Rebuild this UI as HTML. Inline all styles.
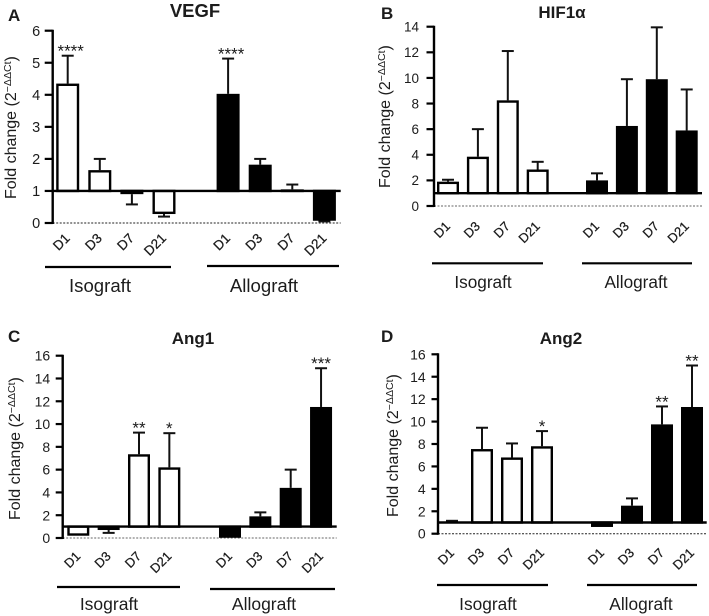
<!DOCTYPE html>
<html>
<head>
<meta charset="utf-8">
<style>
html,body{margin:0;padding:0;background:#fff;}
svg{display:block;font-family:"Liberation Sans",Arial,sans-serif;}
text{fill:#1c1c1c;}
</style>
</head>
<body>
<svg id="figure" width="709" height="616" viewBox="0 0 709 616" xmlns="http://www.w3.org/2000/svg"></svg>
<script>
const categories = ['D1', 'D3', 'D7', 'D21', 'D1', 'D3', 'D7', 'D21'];
const groups = ['Isograft', 'Allograft'];

const vegfValues = [4.35, 1.65, 0.9, 0.28, 4.03, 1.82, 1.05, 0.07];
const vegfErrors = [0.87, 0.35, 0.32, 0.08, 1.1, 0.18, 0.15, 0.02];
const vegfStars = ['****', '', '', '', '****', '', '', ''];
const vegfTicks = [0, 1, 2, 3, 4, 5, 6];

const hifValues = [1.9, 3.85, 8.25, 2.85, 2.0, 6.25, 9.9, 5.9];
const hifErrors = [0.15, 2.15, 3.85, 0.6, 0.55, 3.65, 4.05, 3.2];
const hifStars = ['', '', '', '', '', '', '', ''];
const hifTicks = [0, 2, 4, 6, 8, 10, 12, 14];

const ang1Values = [0.2, 0.7, 7.35, 6.2, 0.02, 1.9, 4.4, 11.5];
const ang1Errors = [0, 0.25, 1.9, 3.0, 0, 0.35, 1.6, 3.4];
const ang1Stars = ['', '', '**', '*', '', '', '', '***'];
const ang1Ticks = [0, 2, 4, 6, 8, 10, 12, 14, 16];

const ang2Values = [1.1, 7.55, 6.8, 7.8, 0.6, 2.5, 9.75, 11.3];
const ang2Errors = [0.05, 1.9, 1.25, 1.35, 0, 0.65, 1.6, 3.7];
const ang2Stars = ['', '', '', '*', '', '', '**', '**'];
const ang2Ticks = [0, 2, 4, 6, 8, 10, 12, 14, 16];

const panels = [
  {id:'a', letter:'A', title:'VEGF', values:vegfValues, errors:vegfErrors, stars:vegfStars, ticks:vegfTicks,
   axisX:52.7, y0:223, yTop:30.7, cx0:67.7, step:32.1, gap:32, barW:23, lineEnd:340.7, tickSize:14.5, tickLen:8, tickGap:12.5,
   titleX:195, titleY:17, titleSize:18.5, letterX:8, letterY:21, labelX:16, labelY:199, starDx:3, zeroColor:'#222',
   lines:[[45,171,267],[207,339,266]], groupX:[100,264], groupY:292, groupSize:18.6, catDy:16, catSize:13.5},
  {id:'b', letter:'B', title:'HIF1α', values:hifValues, errors:hifErrors, stars:hifStars, ticks:hifTicks,
   axisX:434, y0:206, yTop:26.7, cx0:448, step:29.9, gap:29.4, barW:22, lineEnd:702, tickSize:13.5, tickLen:7.5, tickGap:15,
   titleX:562, titleY:18, titleSize:17, letterX:381, letterY:19, labelX:390, labelY:188, starDx:0, zeroColor:'#666',
   lines:[[432,543,263.3],[582,692,263.3]], groupX:[483,636], groupY:288, groupSize:17.2, catDy:21, catSize:13},
  {id:'c', letter:'C', title:'Ang1', values:ang1Values, errors:ang1Errors, stars:ang1Stars, ticks:ang1Ticks,
   axisX:62.7, y0:538, yTop:355.7, cx0:78.3, step:30.35, gap:30.3, barW:22, lineEnd:336.7, tickSize:14, tickLen:7, tickGap:12.5,
   titleX:193, titleY:344, titleSize:17, letterX:8, letterY:342, labelX:20, labelY:520, starDx:0, zeroColor:'#666',
   lines:[[57,180,587],[210,335,589]], groupX:[109,264], groupY:610, groupSize:17.5, catDy:19, catSize:13},
  {id:'d', letter:'D', title:'Ang2', values:ang2Values, errors:ang2Errors, stars:ang2Stars, ticks:ang2Ticks,
   axisX:438, y0:533.7, yTop:354.3, cx0:452, step:30, gap:30, barW:22, lineEnd:706.7, tickSize:14, tickLen:6.5, tickGap:12.3,
   titleX:561, titleY:344, titleSize:17, letterX:381, letterY:342, labelX:398, labelY:517, starDx:0, zeroColor:'#222',
   lines:[[437,548,585],[587,697,585]], groupX:[488,641], groupY:610, groupSize:17.3, catDy:20, catSize:13}
];

const SVG_NS = 'http://www.w3.org/2000/svg';
const BASELINE_VALUE = 1;
const BAR_STROKE = 2.4;
const LABEL_SIZE = 16;

function mk(parent, tag, attrs, txt) {
  const node = document.createElementNS(SVG_NS, tag);
  for (const k in attrs) node.setAttribute(k, attrs[k]);
  if (txt !== undefined) node.textContent = txt;
  parent.appendChild(node);
  return node;
}

const figure = document.getElementById('figure');

panels.forEach(function (p) {
  const yScale = function (v) {
    return p.y0 - v * (p.y0 - p.yTop) / p.ticks[p.ticks.length - 1];
  };
  const xScale = function (i) {
    return p.cx0 + p.step * i + (i >= 4 ? p.gap : 0);
  };
  const base = yScale(BASELINE_VALUE);

  const g = mk(figure, 'g', {});
  
  

  const letter = mk(g, 'text', {x:p.letterX, y:p.letterY, 'font-size':17, 'font-weight':'bold'}, p.letter);
  
  

  const title = mk(g, 'text', {x:p.titleX, y:p.titleY, 'font-size':p.titleSize, 'font-weight':'bold', 'text-anchor':'middle'}, p.title);
  
  

  const yLabel = mk(g, 'text', {x:p.labelX, y:p.labelY, 'font-size':LABEL_SIZE, transform:'rotate(-90 ' + p.labelX + ' ' + p.labelY + ')'});
  
  
  mk(yLabel, 'tspan', {}, 'Fold change (2');
  mk(yLabel, 'tspan', {'font-size':LABEL_SIZE * 0.66, dy:-5}, '−ΔΔCt');
  mk(yLabel, 'tspan', {dy:5}, ')');

  const zero = mk(g, 'line', {x1:p.axisX, x2:p.lineEnd, y1:p.y0, y2:p.y0, stroke:p.zeroColor, 'stroke-width':1, 'stroke-dasharray':'2 1.5'});
  
  

  p.values.forEach(function (v, i) {
    const cx = xScale(i);
    const isAllo = i >= 4;
    const y = yScale(v);
    const up = v >= BASELINE_VALUE;
    const errEnd = yScale(up ? v + p.errors[i] : v - p.errors[i]);

    if (p.errors[i] > 0) {
      const whisker = mk(g, 'line', {x1:cx, x2:cx, y1:y, y2:errEnd, stroke:'#111', 'stroke-width':2});
      
      
      const cap = mk(g, 'line', {x1:cx - 6, x2:cx + 6, y1:errEnd, y2:errEnd, stroke:'#111', 'stroke-width':2});
      
      
    }

    const inset = BAR_STROKE / 2;
    const barHeight = Math.max(Math.abs(base - y) - inset, 0);
    const bar = mk(g, 'rect', {
      x: cx - p.barW / 2 + inset,
      y: up ? y + inset : base,
      width: p.barW - BAR_STROKE,
      height: barHeight,
      fill: isAllo ? '#000' : '#fff',
      stroke: '#000',
      'stroke-width': BAR_STROKE
    });
    
    

    if (p.stars[i]) {
      const star = mk(g, 'text', {x:cx + p.starDx, y:errEnd + 1, 'font-size':17, 'text-anchor':'middle'}, p.stars[i]);
      
      
    }

    const lx = cx + 3;
    const ly = p.y0 + p.catDy;
    const cat = mk(g, 'text', {x:lx, y:ly, 'font-size':p.catSize, 'text-anchor':'end', stroke:'#1c1c1c', 'stroke-width':0.25, transform:'rotate(-45 ' + lx + ' ' + ly + ')'}, categories[i]);
    
    
  });

  const baseLine = mk(g, 'line', {x1:p.axisX, x2:p.lineEnd, y1:base, y2:base, stroke:'#000', 'stroke-width':2.4});
  
  

  const axis = mk(g, 'line', {x1:p.axisX, x2:p.axisX, y1:p.yTop - 1, y2:p.y0 + 1, stroke:'#000', 'stroke-width':2.4});
  
  

  p.ticks.forEach(function (t) {
    const ty = yScale(t);
    const tick = mk(g, 'line', {x1:p.axisX - p.tickLen, x2:p.axisX, y1:ty, y2:ty, stroke:'#000', 'stroke-width':2.2});
    
    
    const tl = mk(g, 'text', {x:p.axisX - p.tickGap, y:ty + p.tickSize * 0.36, 'font-size':p.tickSize, 'text-anchor':'end'}, String(t));
    
    
  });

  groups.forEach(function (name, j) {
    const seg = p.lines[j];
    const rule = mk(g, 'line', {x1:seg[0], x2:seg[1], y1:seg[2], y2:seg[2], stroke:'#000', 'stroke-width':2.2});
    
    
    const gl = mk(g, 'text', {x:p.groupX[j], y:p.groupY, 'font-size':p.groupSize, 'text-anchor':'middle'}, name);
    
    
  });
});
</script>
</body>
</html>
